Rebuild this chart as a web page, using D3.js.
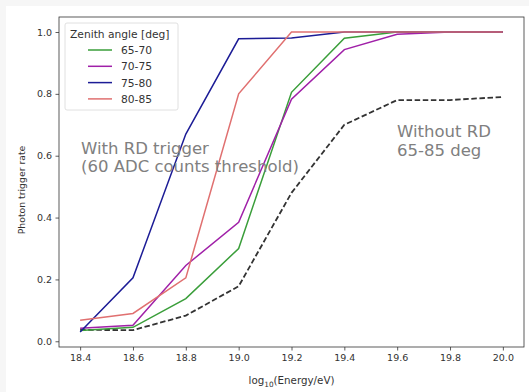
<!DOCTYPE html>
<html>
<head>
<meta charset="utf-8">
<script src="https://cdn.jsdelivr.net/npm/d3@7"></script>
<style>
  html, body { margin: 0; padding: 0; background: #f6f6f6; }
  svg { display: block; }
  text { font-family: "DejaVu Sans", sans-serif; }
</style>
</head>
<body>
<svg id="chart" width="529" height="392"></svg>
<script>
// log10(E/eV) bins
const energies = [18.4, 18.6, 18.8, 19.0, 19.2, 19.4, 19.6, 19.8, 20.0];

// Photon trigger rate per zenith-angle band (with RD trigger)
const rate6570 = [0.035, 0.045, 0.138, 0.30, 0.805, 0.98, 1.0, 1.0, 1.0];
const rate7075 = [0.042, 0.052, 0.245, 0.385, 0.783, 0.943, 0.993, 1.0, 1.0];
const rate7580 = [0.03, 0.205, 0.67, 0.978, 0.981, 1.0, 1.0, 1.0, 1.0];
const rate8085 = [0.068, 0.09, 0.205, 0.80, 1.0, 1.0, 1.0, 1.0, 1.0];
// Without RD trigger, 65-85 deg combined
const rateNoRD = [0.037, 0.036, 0.083, 0.178, 0.48, 0.70, 0.78, 0.78, 0.79];

const bandLabels = ["65-70", "70-75", "75-80", "80-85"];
const bandColors = ["#3a9e3a", "#a020a8", "#1c1c96", "#e07070"];
const bandRates = [rate6570, rate7075, rate7580, rate8085];

const xTicks = [18.4, 18.6, 18.8, 19.0, 19.2, 19.4, 19.6, 19.8, 20.0];
const yTicks = [0.0, 0.2, 0.4, 0.6, 0.8, 1.0];

const svg = d3.select("#chart");
const W = 529, H = 392;
const plot = { left: 59, right: 524, top: 17, bottom: 347 };

svg.append("rect").attr("x", 6).attr("y", 6).attr("width", W - 6).attr("height", H - 6).attr("fill", "#ffffff");

const allVals = bandRates.flat().concat(rateNoRD);
const yMin = d3.min(allVals), yMax = d3.max(allVals);
const yPad = (yMax - yMin) * 0.05;
const xPad = (d3.max(energies) - d3.min(energies)) * 0.05;

const x = d3.scaleLinear()
  .domain([d3.min(energies) - xPad, d3.max(energies) + xPad])
  .range([plot.left, plot.right]);
const y = d3.scaleLinear()
  .domain([yMin - yPad, yMax + yPad])
  .range([plot.bottom, plot.top]);

// axes
const xAxis = d3.axisBottom(x).tickValues(xTicks).tickFormat(d3.format(".1f")).tickSize(3.5).tickPadding(3.5);
const yAxis = d3.axisLeft(y).tickValues(yTicks).tickFormat(d3.format(".1f")).tickSize(3.5).tickPadding(3.5);

const gx = svg.append("g").attr("transform", `translate(0,${plot.bottom})`).call(xAxis);
const gy = svg.append("g").attr("transform", `translate(${plot.left},0)`).call(yAxis);
[gx, gy].forEach(g => {
  g.select(".domain").remove();
  g.selectAll(".tick line").attr("stroke", "#333").attr("stroke-width", 0.8);
  g.selectAll(".tick text").attr("fill", "#333").style("font-size", "9.5px").style("font-family", "DejaVu Sans");
});

// frame
svg.append("rect")
  .attr("x", plot.left).attr("y", plot.top)
  .attr("width", plot.right - plot.left).attr("height", plot.bottom - plot.top)
  .attr("fill", "none").attr("stroke", "#333").attr("stroke-width", 0.8);

// axis labels
svg.append("text")
  .attr("x", (plot.left + plot.right) / 2).attr("y", 384)
  .attr("text-anchor", "middle").attr("fill", "#333").style("font-size", "10.3px")
  .text("log")
  .call(t => {
    t.append("tspan").attr("dy", 2.5).style("font-size", "7.3px").text("10");
    t.append("tspan").attr("dy", -2.5).text("(Energy/eV)");
  });

svg.append("text")
  .attr("transform", `translate(25,${(plot.top + plot.bottom) / 2 + 8}) rotate(-90)`)
  .attr("text-anchor", "middle").attr("fill", "#333").style("font-size", "9.3px")
  .text("Photon trigger rate");

const line = d3.line().x((d, i) => x(energies[i])).y(d => y(d));

const plotG = svg.append("g");

plotG.append("path")
  .datum(rateNoRD)
  .attr("d", line)
  .attr("fill", "none")
  .attr("stroke", "#333")
  .attr("stroke-width", 1.8)
  .attr("stroke-dasharray", "5.5,2.6");

bandRates.forEach((vals, k) => {
  plotG.append("path")
    .datum(vals)
    .attr("d", line)
    .attr("fill", "none")
    .attr("stroke", bandColors[k])
    .attr("stroke-width", 1.5);
});

// annotations
const ann1 = svg.append("text").attr("fill", "#808080").style("font-size", "16.5px");
ann1.append("tspan").attr("x", 81).attr("y", 154).text("With RD trigger");
ann1.append("tspan").attr("x", 81).attr("y", 172).text("(60 ADC counts threshold)");

const ann2 = svg.append("text").attr("fill", "#808080").style("font-size", "16.5px");
ann2.append("tspan").attr("x", 397).attr("y", 137).text("Without RD");
ann2.append("tspan").attr("x", 397).attr("y", 156).text("65-85 deg");

// legend
const leg = svg.append("g");
leg.append("rect")
  .attr("x", 65).attr("y", 23).attr("width", 113).attr("height", 87).attr("rx", 2)
  .attr("fill", "#ffffff").attr("fill-opacity", 0.8)
  .attr("stroke", "#d8d8d8").attr("stroke-width", 0.8);
leg.append("text").attr("x", 70).attr("y", 38).attr("fill", "#333").style("font-size", "10.7px")
  .text("Zenith angle [deg]");
bandLabels.forEach((lab, k) => {
  const cy = 50 + k * 16.3;
  leg.append("line").attr("x1", 88).attr("x2", 112).attr("y1", cy).attr("y2", cy)
    .attr("stroke", bandColors[k]).attr("stroke-width", 1.5);
  leg.append("text").attr("x", 121).attr("y", cy + 4).attr("fill", "#333").style("font-size", "10.7px")
    .text(lab);
});
</script>
</body>
</html>
